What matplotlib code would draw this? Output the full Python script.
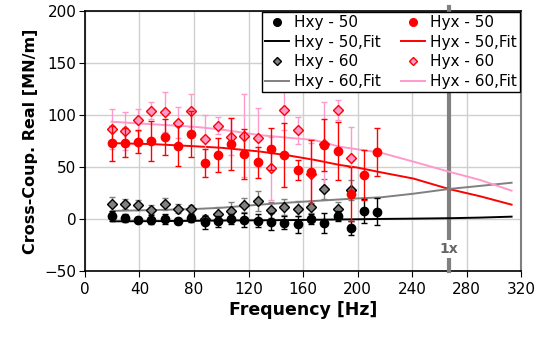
import numpy as np
import matplotlib
matplotlib.use("Agg")
import matplotlib.pyplot as plt

# ---- measured points (frequency in Hz) ----
freq = [19.5, 29.3, 39.0, 48.8, 58.5, 68.3, 78.0, 87.8, 97.5, 107.3, 117.0,
        126.8, 136.5, 146.3, 156.0, 165.8, 175.5, 185.3, 195.0, 204.8, 214.5]

hxy50 = [3.2, 1.2, -0.4, -0.3, 0.0, -2.0, 1.0, -3.0, -2.0, 0.0, -0.7,
         -1.3, -2.3, -3.2, -4.8, 0.0, -3.9, 3.0, -8.3, 8.0, 7.3]
hxy50_err = [5, 4, 3, 4, 5, 3, 4, 6, 5, 5, 7, 6, 8, 6, 8, 5, 9.5, 5, 7, 11.5, 13]

hyx50 = [72.8, 73.4, 74.5, 75.3, 78.8, 70.2, 81.4, 53.6, 61.6, 71.8, 62.5,
         54.6, 67.3, 61.6, 47.2, 45.6, 71.0, 65.4, 24.0, 42.4, 64.2]
hyx50_err = [16.5, 14, 11, 19, 17, 19, 22, 13.5, 16, 25, 24,
             15, 20, 31, 10, 30, 25, 28, 26, 24, 23]

hxy60 = [14.4, 14.4, 13.4, 9.2, 14.4, 10.2, 9.9, 0.3, 5.1, 8.2, 13.7,
         17.5, 8.9, 11.8, 10.2, 11.8, 29.0, 9.6, 28.0]
hxy60_err = [7, 5, 5, 4, 6, 4, 4, 4, 7, 8, 7, 10, 8, 8, 7, 6, 10, 7, 10]

hyx60 = [86.2, 84.6, 94.8, 104.0, 103.0, 92.5, 104.0, 77.2, 89.7, 79.1, 80.2,
         78.2, 48.8, 104.7, 85.2, 43.0, 72.1, 104.7, 58.4]
hyx60_err = [19, 18, 10.6, 8, 19, 15, 16, 23, 8, 17.6, 40,
             28, 30, 19, 13, 30, 40, 10, 30]

# ---- fitted curves ----
fit_f = [19.5, 50, 80, 100, 128, 150, 168, 187, 200, 217, 241, 267, 290, 313]
hxy50_fit = [-2.0, -1.8, -1.5, -1.2, -1.0, -0.8, -0.5, -0.2, 0.0, 0.3, 0.6, 1.0, 1.6, 2.5]
hyx50_fit = [73.0, 72.0, 70.0, 68.5, 65.0, 61.0, 57.0, 52.0, 49.5, 45.0, 39.0, 29.0, 22.0, 14.0]
hxy60_fit = [8.0, 8.8, 9.8, 11.0, 14.0, 16.0, 17.5, 19.0, 20.0, 21.0, 24.5, 29.0, 32.0, 35.0]
hyx60_fit = [93.5, 91.0, 88.7, 86.0, 80.7, 78.0, 76.0, 69.5, 67.0, 63.8, 55.2, 45.6, 37.6, 27.4]

line_1x = 267

PINK = "#ff99cc"
GRAY = "#808080"

fig = plt.figure(figsize=(5.48, 3.41), dpi=100)
ax = fig.add_axes([0.155, 0.204, 0.796, 0.765])

f19 = freq[:len(hxy60)]
cap = dict(capsize=2.5, elinewidth=1, capthick=1, linestyle="none")
ax.errorbar(freq, hxy50, yerr=hxy50_err, fmt="o", color="black", ms=6,
            ecolor="black", zorder=6, **cap)
ax.errorbar(f19, hxy60, yerr=hxy60_err, fmt="D", color=GRAY, mec="black",
            mew=1, ms=4.8, ecolor=GRAY, zorder=5, **cap)
ax.errorbar(freq, hyx50, yerr=hyx50_err, fmt="o", color="red", ms=6,
            ecolor="red", zorder=6, **cap)
ax.errorbar(f19, hyx60, yerr=hyx60_err, fmt="D", color=PINK, mec="red",
            mew=1, ms=4.8, ecolor=PINK, zorder=5, **cap)

l1, = ax.plot(fit_f, hxy50_fit, color="black", lw=1.4, zorder=4)
l2, = ax.plot(fit_f, hyx50_fit, color="red", lw=1.4, zorder=4)
l3, = ax.plot(fit_f, hxy60_fit, color=GRAY, lw=1.4, zorder=4)
l4, = ax.plot(fit_f, hyx60_fit, color=PINK, lw=1.4, zorder=4)

# 1x marker
ax.plot([line_1x, line_1x], [-50, 203], color=GRAY, lw=3, clip_on=False, zorder=3)
ax.text(line_1x, -28.5, "1x", ha="center", va="center", fontsize=10,
        fontweight="bold", color="#666666",
        bbox=dict(facecolor="white", edgecolor="none", pad=1.5), zorder=3.5)

ax.set_xlim(0, 320)
ax.set_ylim(-50, 200)
ax.set_xticks(np.arange(0, 321, 40))
ax.set_yticks(np.arange(-50, 201, 50))
ax.grid(True, color="#d0d0d0", lw=1)
ax.set_axisbelow(True)
ax.tick_params(labelsize=11, length=4, direction="out", color="black")
ax.tick_params(axis="y", pad=2)
for s in ["left", "bottom", "top"]:
    ax.spines[s].set_color("black")
    ax.spines[s].set_linewidth(1.2)
ax.spines["right"].set_color(GRAY)
ax.spines["right"].set_linewidth(1.5)

ax.set_xlabel("Frequency [Hz]", fontsize=12.5, fontweight="bold", labelpad=3)
ax.set_ylabel("Cross-Coup. Real [MN/m]", fontsize=11.5, fontweight="bold", labelpad=5)

h = [
    plt.Line2D([], [], marker="o", color="black", ls="none", ms=5.5),
    l1,
    plt.Line2D([], [], marker="D", color=GRAY, mec="black", ls="none", ms=4.2),
    l3,
    plt.Line2D([], [], marker="o", color="red", ls="none", ms=5.5),
    l2,
    plt.Line2D([], [], marker="D", color=PINK, mec="red", ls="none", ms=4.2),
    l4,
]
labels = ["Hxy - 50", "Hxy - 50,Fit", "Hxy - 60", "Hxy - 60,Fit",
          "Hyx - 50", "Hyx - 50,Fit", "Hyx - 60", "Hyx - 60,Fit"]
leg = ax.legend(h, labels, ncol=2, loc="upper right", fontsize=11,
                frameon=True, fancybox=False, edgecolor="black", framealpha=1,
                borderpad=0.2, labelspacing=0.3, handlelength=1.6,
                handletextpad=0.3, columnspacing=1.3, borderaxespad=0.1)
leg.get_frame().set_linewidth(1)
leg.set_zorder(10)

fig.savefig("out.png", dpi=100)
